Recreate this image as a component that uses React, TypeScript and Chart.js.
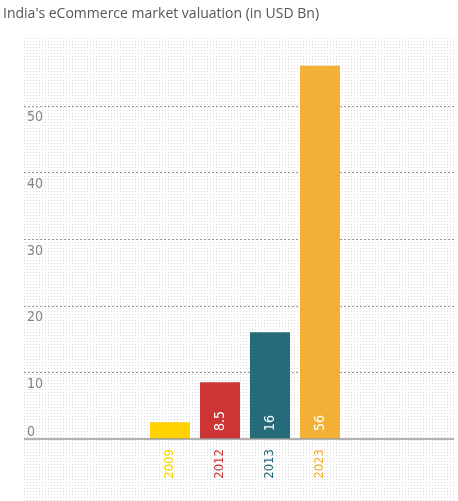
import React, { useEffect, useRef } from "react";
import { Chart, registerables } from "chart.js";

Chart.register(...registerables);

const TITLE = "India's eCommerce market valuation (in USD Bn)";
const years = ["2009", "2012", "2013", "2023"];
const valuations = [2.5, 8.5, 16, 56];
const valueLabels = ["", "8.5", "16", "56"];
const barColors = ["#FFD200", "#CC3535", "#266B79", "#F2B136"];
const yTickValues = [0, 10, 20, 30, 40, 50];

const BG_LEFT = 24;
const BG_RIGHT = 454;
const BG_TOP = 38;
const LABEL_FONT = "'DejaVu Sans Condensed', 'Liberation Sans Narrow', sans-serif";

const backdropPlugin = {
  id: "backdrop",
  beforeDraw(chart: any) {
    const ctx = chart.ctx;
    ctx.save();
    ctx.fillStyle = "#d9d9d9";
    for (let y = BG_TOP; y < chart.height; y += 3) {
      for (let x = BG_LEFT; x < BG_RIGHT; x += 3) {
        ctx.fillRect(x, y, 1, 1);
      }
    }
    ctx.restore();
  },
  beforeDatasetsDraw(chart: any) {
    const ctx = chart.ctx;
    const yScale = chart.scales.y;
    ctx.save();
    ctx.strokeStyle = "#9a9a9a";
    ctx.lineWidth = 1;
    ctx.setLineDash([2, 2]);
    yTickValues.forEach((v) => {
      if (v === 0) return;
      const y = Math.round(yScale.getPixelForValue(v)) + 0.5;
      ctx.beginPath();
      ctx.moveTo(BG_LEFT, y);
      ctx.lineTo(BG_RIGHT, y);
      ctx.stroke();
    });
    ctx.restore();
  },
  afterDatasetsDraw(chart: any) {
    const ctx = chart.ctx;
    const yScale = chart.scales.y;
    ctx.save();
    const y0 = yScale.getPixelForValue(0);
    ctx.strokeStyle = "#999999";
    ctx.lineWidth = 1.5;
    ctx.beginPath();
    ctx.moveTo(BG_LEFT, y0);
    ctx.lineTo(BG_RIGHT, y0);
    ctx.stroke();

    ctx.font = "14px " + LABEL_FONT;
    ctx.fillStyle = "#858585";
    ctx.textAlign = "left";
    ctx.textBaseline = "alphabetic";
    yTickValues.forEach((v) => {
      const y = yScale.getPixelForValue(v);
      const ty = v === 0 ? y - 3 : y + 15.5;
      ctx.fillText(String(v), BG_LEFT + 3, ty);
    });

    const meta = chart.getDatasetMeta(0);
    ctx.fillStyle = "#ffffff";
    ctx.font = "14px " + LABEL_FONT;
    meta.data.forEach((bar: any, i: number) => {
      const txt = valueLabels[i];
      if (!txt) return;
      ctx.save();
      ctx.translate(bar.x, bar.base - 8);
      ctx.rotate(-Math.PI / 2);
      ctx.textAlign = "left";
      ctx.textBaseline = "middle";
      ctx.fillText(txt, 0, 0);
      ctx.restore();
    });
    ctx.restore();
  },
};

export default function App() {
  const canvasRef = useRef<HTMLCanvasElement | null>(null);

  useEffect(() => {
    const canvas = canvasRef.current;
    if (!canvas) return;
    const chart = new Chart(canvas, {
      type: "bar",
      data: {
        labels: years,
        datasets: [
          {
            data: valuations,
            backgroundColor: barColors,
            borderWidth: 0,
            barPercentage: 0.8,
            categoryPercentage: 1,
          },
        ],
      },
      options: {
        responsive: false,
        animation: false,
        layout: { padding: { left: 145, right: 113, top: 39, bottom: 22 } },
        plugins: {
          legend: { display: false },
          tooltip: { enabled: false },
          title: { display: false },
        },
        scales: {
          x: {
            grid: { display: false, drawTicks: false },
            border: { display: false },
            ticks: {
              padding: 10,
              maxRotation: 90,
              minRotation: 90,
              color: (c: any) => barColors[c.index],
              font: { family: LABEL_FONT, size: 13 },
            },
            afterFit: (s: any) => {
              s.height = 40;
            },
          },
          y: {
            min: 0,
            max: 60,
            ticks: { stepSize: 10, display: false },
            grid: { display: false, drawTicks: false },
            border: { display: false },
            afterFit: (s: any) => {
              s.width = 0;
            },
          },
        },
      },
      plugins: [backdropPlugin],
    });
    return () => chart.destroy();
  }, []);

  return (
    <div style={{ position: "absolute", left: 0, top: 0, width: 458, height: 501, background: "#fff" }}>
      <div
        style={{
          position: "absolute",
          left: 3,
          top: 3,
          fontFamily: "'Open Sans', sans-serif",
          fontSize: 14,
          color: "#555",
          whiteSpace: "nowrap",
        }}
      >
        {TITLE}
      </div>
      <canvas ref={canvasRef} width={458} height={501} style={{ display: "block" }} />
    </div>
  );
}
